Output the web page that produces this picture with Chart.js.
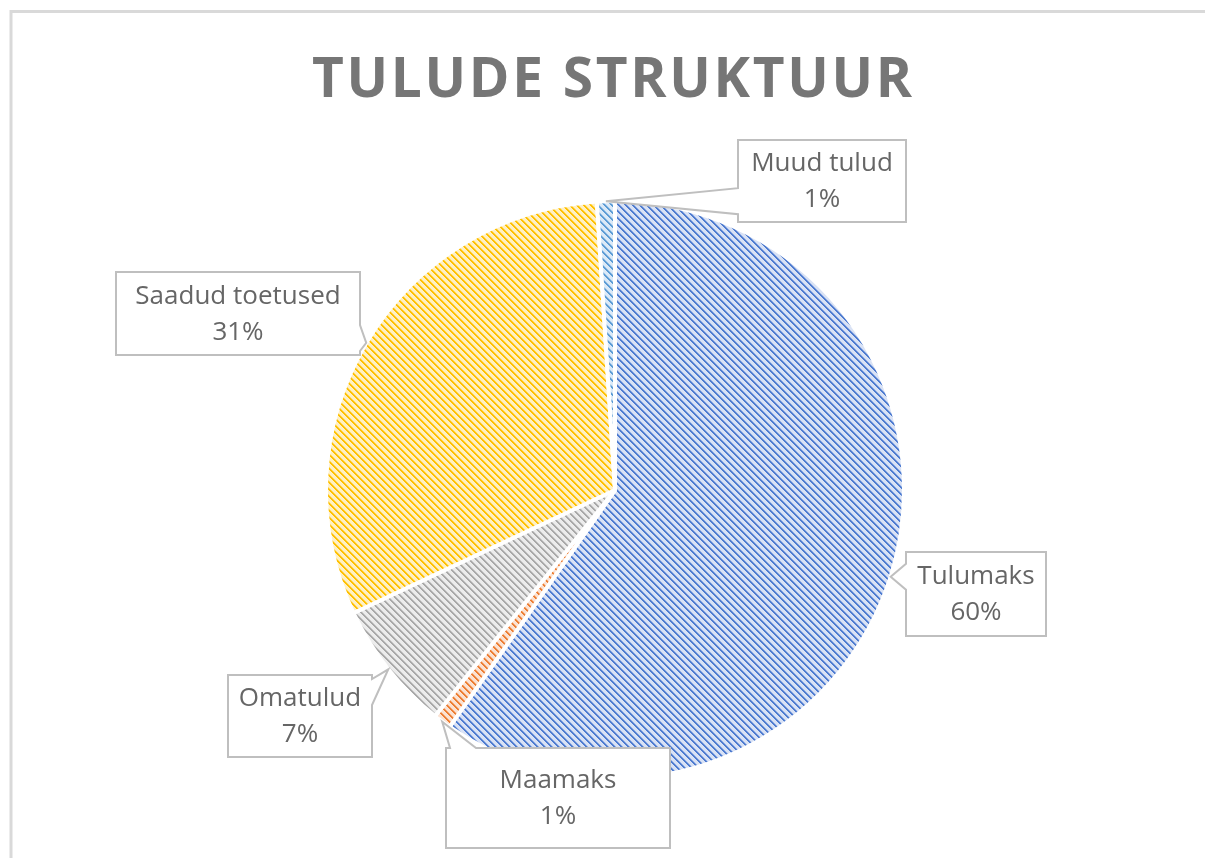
<!DOCTYPE html>
<html lang="et">
<head>
<meta charset="utf-8">
<title>Tulude struktuur</title>
<script src="https://cdn.jsdelivr.net/npm/chart.js@4.4.1/dist/chart.umd.min.js"></script>
<style>
    html, body { margin: 0; padding: 0; background: #fff; }
    #wrap { width: 1205px; height: 858px; position: relative; }
</style>
</head>
<body>
<div id="wrap"><canvas id="pie"></canvas></div>
<script>
    // data
    const categories = ['Tulumaks', 'Maamaks', 'Omatulud', 'Saadud toetused', 'Muud tulud'];
    const shares = [59.7, 1.0, 7.3, 31.0, 1.0];
    const lineColors = ['#4d7bd0', '#ed7d31', '#a8a8a8', '#ffc000', '#5b9bd5'];
    const backColors = ['#d9e2f5', '#fbe2d2', '#ececec', '#fff0c4', '#dbe9f7'];
    const titleText = 'TULUDE STRUKTUUR';

    // callout box placement (layout only)
    const boxes = [
        { x: 906, y: 552, w: 140, h: 84 },
        { x: 446, y: 748, w: 224, h: 100 },
        { x: 228, y: 675, w: 144, h: 82 },
        { x: 116, y: 272, w: 244, h: 83 },
        { x: 738, y: 140, w: 168, h: 82 }
    ];

    // hatch pattern: diagonal stripes on a light tint
    function hatch(line, back) {
        const size = 7;
        const c = document.createElement('canvas');
        c.width = size; c.height = size;
        const g = c.getContext('2d');
        g.fillStyle = back;
        g.fillRect(0, 0, size, size);
        g.fillStyle = line;
        for (let y = 0; y < size; y++) {
            for (let x = 0; x < size; x++) {
                const k = (x - y + size * 2) % size;
                if (k < 2) g.fillRect(x, y, 1, 1);
            }
        }
        g.globalAlpha = 0.45;
        for (let y = 0; y < size; y++) {
            for (let x = 0; x < size; x++) {
                if ((x - y + size * 2) % size === 2) g.fillRect(x, y, 1, 1);
            }
        }
        return g.createPattern(c, 'repeat');
    }

    const frame = {
        id: 'frame',
        beforeDraw(chart) {
            const ctx = chart.ctx;
            ctx.save();
            ctx.fillStyle = '#fff';
            ctx.fillRect(0, 0, chart.width, chart.height);
            ctx.strokeStyle = '#d9d9d9';
            ctx.lineWidth = 3;
            ctx.beginPath();
            ctx.moveTo(11, chart.height + 5);
            ctx.lineTo(11, 11.5);
            ctx.lineTo(chart.width + 5, 11.5);
            ctx.stroke();

            // title, letter spaced to its width in the picture
            ctx.font = 'bold 55px "Open Sans"';
            ctx.fillStyle = '#767676';
            ctx.textBaseline = 'alphabetic';
            const chars = titleText.split('');
            const widths = chars.map(ch => ctx.measureText(ch).width);
            const total = 600;
            const gap = (total - widths.reduce((a, b) => a + b, 0)) / (chars.length - 1);
            let x = 612 - total / 2;
            chars.forEach((ch, i) => {
                ctx.fillText(ch, x, 97);
                x += widths[i] + gap;
            });
            ctx.restore();
        }
    };

    function calloutPath(ctx, b, tip) {
        const L = b.x, R = b.x + b.w, T = b.y, B = b.y + b.h;
        const dl = L - tip.x, dr = tip.x - R, dt = T - tip.y, db = tip.y - B;
        const side = [['left', dl], ['right', dr], ['top', dt], ['bottom', db]]
            .sort((a, c) => c[1] - a[1])[0][0];
        const half = 13, m = 4;
        const clamp = (v, lo, hi) => Math.max(lo, Math.min(hi, v));
        let pts;
        if (side === 'top' || side === 'bottom') {
            const c = clamp(tip.x, L + m + half, R - m - half);
            if (side === 'top') {
                pts = [[L, T], [c - half, T], [tip.x, tip.y], [c + half, T], [R, T], [R, B], [L, B]];
            } else {
                pts = [[L, T], [R, T], [R, B], [c + half, B], [tip.x, tip.y], [c - half, B], [L, B]];
            }
        } else {
            const c = clamp(tip.y, T + m + half, B - m - half);
            if (side === 'right') {
                pts = [[L, T], [R, T], [R, c - half], [tip.x, tip.y], [R, c + half], [R, B], [L, B]];
            } else {
                pts = [[L, T], [R, T], [R, B], [L, B], [L, c + half], [tip.x, tip.y], [L, c - half]];
            }
        }
        ctx.beginPath();
        pts.forEach((p, i) => i ? ctx.lineTo(p[0], p[1]) : ctx.moveTo(p[0], p[1]));
        ctx.closePath();
    }

    const callouts = {
        id: 'callouts',
        afterDraw(chart) {
            const ctx = chart.ctx;
            const meta = chart.getDatasetMeta(0);
            const sum = shares.reduce((a, b) => a + b, 0);
            ctx.save();
            meta.data.forEach((arc, i) => {
                const p = arc.getProps(['x', 'y', 'startAngle', 'endAngle', 'outerRadius'], true);
                const mid = (p.startAngle + p.endAngle) / 2;
                const tip = { x: p.x + Math.cos(mid) * p.outerRadius, y: p.y + Math.sin(mid) * p.outerRadius };
                const b = boxes[i];
                calloutPath(ctx, b, tip);
                ctx.fillStyle = '#fff';
                ctx.fill();
                ctx.strokeStyle = '#bfbfbf';
                ctx.lineWidth = 2;
                ctx.lineJoin = 'miter';
                ctx.stroke();

                ctx.fillStyle = '#666666';
                ctx.font = '26px "Open Sans"';
                ctx.textAlign = 'center';
                ctx.textBaseline = 'middle';
                const cx = b.x + b.w / 2, cy = b.y + b.h / 2;
                ctx.fillText(categories[i], cx, cy - 17);
                ctx.fillText(Math.round(shares[i] / sum * 100) + '%', cx, cy + 19);
            });
            ctx.restore();
        }
    };

    new Chart(document.getElementById('pie'), {
        type: 'pie',
        data: {
            labels: categories,
            datasets: [{
                data: shares,
                backgroundColor: lineColors.map((c, i) => hatch(c, backColors[i])),
                borderColor: '#ffffff',
                borderWidth: 4
            }]
        },
        options: {
            responsive: true,
            maintainAspectRatio: false,
            animation: false,
            layout: { padding: { left: 324, right: 299, top: 199, bottom: 77 } },
            plugins: {
                legend: { display: false },
                tooltip: { enabled: false },
                title: { display: false }
            }
        },
        plugins: [frame, callouts]
    });
</script>
</body>
</html>
